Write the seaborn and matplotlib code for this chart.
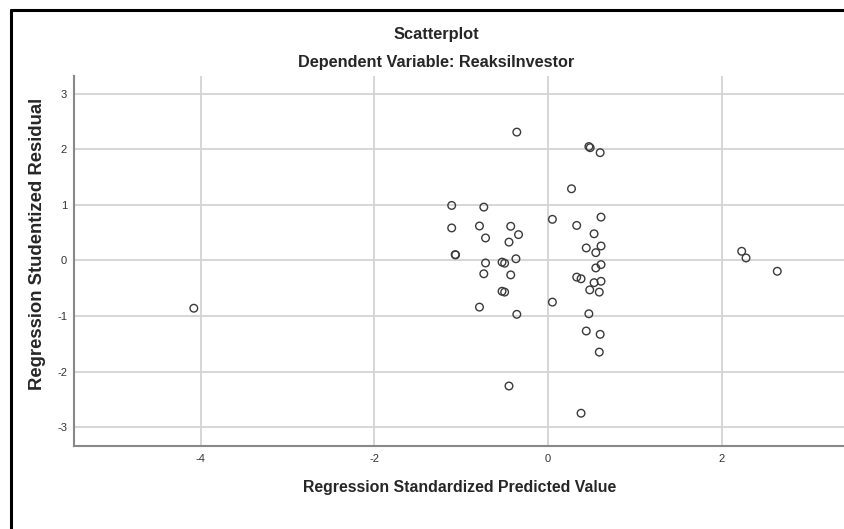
import numpy as np
import pandas as pd
import matplotlib
matplotlib.use("Agg")
import matplotlib.pyplot as plt
import seaborn as sns
from matplotlib.lines import Line2D

# valeurs
predicted = [-0.36, 0.47, 0.485, 0.60, 0.27, -1.11, -0.74, 0.05, 0.61, -1.11,
             -0.79, -0.43, 0.33, -0.34, 0.53, -0.72, -0.45, 0.44, 0.61, 0.55,
             -1.07, -1.065, -0.72, -0.53, -0.50, -0.37, 0.55, 0.61, -0.74, -0.43,
             0.33, 0.38, 0.53, 0.61, 0.48, 0.59, -0.53, -0.50, -0.79, 0.05,
             -0.36, 0.47, 0.44, 0.60, 0.59, -0.45, 0.38, -4.08, 2.23, 2.28, 2.64]
residual = [2.31, 2.05, 2.03, 1.94, 1.29, 0.99, 0.96, 0.74, 0.78, 0.585,
            0.62, 0.615, 0.63, 0.465, 0.48, 0.405, 0.33, 0.225, 0.26, 0.14,
            0.105, 0.10, -0.045, -0.03, -0.05, 0.03, -0.135, -0.075, -0.24, -0.26,
            -0.30, -0.33, -0.40, -0.375, -0.53, -0.57, -0.555, -0.57, -0.84, -0.75,
            -0.97, -0.96, -1.27, -1.33, -1.65, -2.26, -2.75, -0.86, 0.165, 0.045, -0.195]
x_ticks = [-4, -2, 0, 2]
y_ticks = [-3, -2, -1, 0, 1, 2, 3]

df = pd.DataFrame({'pred': predicted, 'resid': residual})

sns.set_style("white")
plt.rcParams['font.family'] = ['Liberation Sans', 'DejaVu Sans']
plt.rcParams['axes.unicode_minus'] = False

fig = plt.figure(figsize=(8.45, 5.29), dpi=100)
ax = fig.add_axes([74 / 845, 83 / 529, 1 - 74 / 845, 370 / 529])

ax.grid(True, color='#d3d3d3', linewidth=1.3)
ax.set_axisbelow(True)
sns.scatterplot(data=df, x='pred', y='resid', ax=ax, s=30, facecolors='none',
                edgecolor='#3a3a3a', linewidth=1.0)

ax.set_xlim(-5.46, 3.42)
ax.set_ylim(-3.34, 3.32)
ax.set_xticks(x_ticks)
ax.set_yticks(y_ticks)
ax.tick_params(length=0, labelsize=8, colors='#333333')
ax.tick_params(axis='x', pad=6)
ax.tick_params(axis='y', pad=5)

for side in ['top', 'right']:
    ax.spines[side].set_visible(False)
for side in ['left', 'bottom']:
    ax.spines[side].set_color('#888888')
    ax.spines[side].set_linewidth(1.5)

ax.set_xlabel('Regression Standardized Predicted Value', fontsize=11.4,
              fontweight='bold', labelpad=11)
ax.set_ylabel('Regression Studentized Residual', fontsize=13.3,
              fontweight='bold')
ax.yaxis.set_label_coords(-0.036, 0.545)

fig.text(436 / 845, 1 - 34 / 529, 'Scatterplot', ha='center', va='center',
         fontsize=11.8, fontweight='bold')
fig.text(436 / 845, 1 - 63 / 529, 'Dependent Variable: ReaksiInvestor',
         ha='center', va='center', fontsize=11.7, fontweight='bold')

# cadre noir en haut et à gauche
fig.add_artist(Line2D([11 / 845, 1], [1 - 10 / 529, 1 - 10 / 529],
                      transform=fig.transFigure, color='black', linewidth=2.2))
fig.add_artist(Line2D([11 / 845, 11 / 845], [0, 1 - 10 / 529],
                      transform=fig.transFigure, color='black', linewidth=2.2))

fig.savefig('out.png', dpi=100)
